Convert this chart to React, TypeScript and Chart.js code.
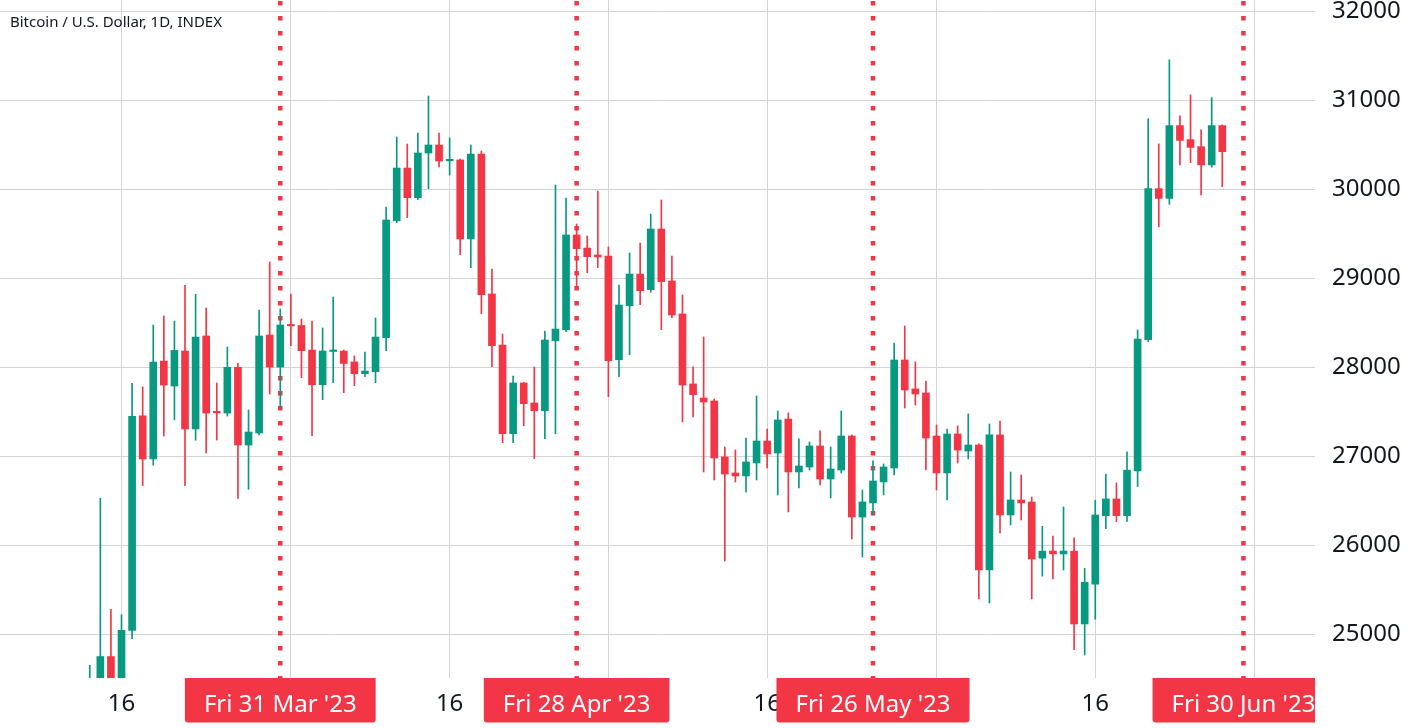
import React, { useEffect, useRef } from 'react';
import { Chart, registerables } from 'chart.js';

Chart.register(...registerables);

// ---- data ----
const dates = [
  '2023-03-13','2023-03-14','2023-03-15','2023-03-16','2023-03-17','2023-03-18','2023-03-19','2023-03-20','2023-03-21','2023-03-22',
  '2023-03-23','2023-03-24','2023-03-25','2023-03-26','2023-03-27','2023-03-28','2023-03-29','2023-03-30','2023-03-31',
  '2023-04-01','2023-04-02','2023-04-03','2023-04-04','2023-04-05','2023-04-06','2023-04-07','2023-04-08','2023-04-09','2023-04-10',
  '2023-04-11','2023-04-12','2023-04-13','2023-04-14','2023-04-15','2023-04-16','2023-04-17','2023-04-18','2023-04-19','2023-04-20',
  '2023-04-21','2023-04-22','2023-04-23','2023-04-24','2023-04-25','2023-04-26','2023-04-27','2023-04-28','2023-04-29','2023-04-30',
  '2023-05-01','2023-05-02','2023-05-03','2023-05-04','2023-05-05','2023-05-06','2023-05-07','2023-05-08','2023-05-09','2023-05-10',
  '2023-05-11','2023-05-12','2023-05-13','2023-05-14','2023-05-15','2023-05-16','2023-05-17','2023-05-18','2023-05-19','2023-05-20',
  '2023-05-21','2023-05-22','2023-05-23','2023-05-24','2023-05-25','2023-05-26','2023-05-27','2023-05-28','2023-05-29','2023-05-30','2023-05-31',
  '2023-06-01','2023-06-02','2023-06-03','2023-06-04','2023-06-05','2023-06-06','2023-06-07','2023-06-08','2023-06-09','2023-06-10',
  '2023-06-11','2023-06-12','2023-06-13','2023-06-14','2023-06-15','2023-06-16','2023-06-17','2023-06-18','2023-06-19','2023-06-20',
  '2023-06-21','2023-06-22','2023-06-23','2023-06-24','2023-06-25','2023-06-26','2023-06-27','2023-06-28',
];

const opens = [
  20600, 24150, 24750, 24380, 25045, 27455, 26970, 28070, 27790, 28183, 27307, 28352, 27496, 27486, 28000, 27127, 27262, 28363, 28003,
  28475, 28470, 28194, 27804, 28178, 28183, 28060, 27928, 27951, 28333, 29647, 30239, 29906, 30408, 30498, 30320, 30330, 29442, 30397, 28824,
  28250, 27254, 27824, 27599, 27513, 28299, 28423, 29487, 29340, 29262,
  29250, 28085, 28692, 29048, 28872, 29554, 28970, 28599, 27813, 27655, 27622, 26993, 26813, 26779, 26925, 27172, 27037, 27419, 26824, 26880,
  27116, 26745, 26846, 27228, 26318, 26476, 26712, 26869, 28082, 27757, 27712,
  27228, 26813, 27251, 27060, 27127, 25723, 27240, 26341, 26509, 26487, 25856, 25936, 25903, 25934, 25116, 25563, 26333, 26521, 26333, 26835,
  28310, 30007, 29898, 30716, 30558, 30479, 30274, 30716,
];

const highs = [
  24650, 26530, 25280, 25220, 27820, 27780, 28475, 28575, 28520, 28920, 28820, 28667, 27824, 28228, 28045, 27520, 28644, 29183, 28655,
  28824, 28543, 28520, 28442, 28790, 28194, 28127, 28172, 28554, 29801, 30588, 30509, 30633, 31048, 30633, 30576, 30340, 30498, 30430, 29104,
  28374, 27902, 27830, 28003, 28408, 30048, 29902, 29610, 29475, 29980,
  29352, 28925, 29284, 29397, 29722, 29880, 29251, 28813, 28004, 28341, 27644, 27105, 27071, 27206, 27678, 27307, 27509, 27487, 27195, 27161,
  27285, 27105, 27509, 27240, 26622, 26948, 26914, 28273, 28464, 28060, 27846,
  27352, 27307, 27341, 27476, 27139, 27363, 27397, 26824, 26790, 26543, 26214, 26105, 26431, 26083, 25742, 26507, 26801, 26700, 27050, 28419,
  30794, 30510, 31455, 30825, 31061, 30668, 31031, 30724,
];

const lows = [
  20100, 23950, 23900, 24200, 24950, 26670, 26900, 27230, 27410, 26670, 27180, 27037, 27183, 27452, 26528, 26629, 27240, 27700, 27543,
  28243, 27883, 27232, 27636, 27827, 27715, 27793, 27895, 27827, 28187, 29625, 29681, 29884, 30007, 30251, 30160, 29265, 29120, 28602, 28007,
  27153, 27153, 27344, 26973, 27198, 27254, 28400, 28900, 29063, 29120,
  27670, 27895, 28142, 28703, 28843, 28423, 28558, 27386, 27442, 26824, 26734, 25824, 26712, 26599, 26734, 26869, 26566, 26375, 26644, 26846,
  26678, 26532, 26813, 26071, 25869, 26341, 26566, 26790, 27543, 27577, 26846,
  26622, 26509, 26925, 26970, 25397, 25352, 26139, 26228, 26285, 25397, 25654, 25622, 25723, 24828, 24767, 25169, 26188, 26267, 26267, 26660,
  28288, 29578, 29832, 30274, 30300, 29937, 30248, 30029,
];

const closes = [
  24150, 24750, 24380, 25045, 27450, 26970, 28060, 27800, 28190, 27307, 28340, 27486, 27488, 28000, 27127, 27273, 28352, 28003, 28475,
  28465, 28187, 27804, 28183, 28186, 28043, 27928, 27958, 28340, 29655, 30239, 29906, 30408, 30498, 30318, 30330, 29442, 30397, 28816, 28243,
  27254, 27824, 27591, 27513, 28307, 28430, 29487, 29333, 29243, 29240,
  28074, 28700, 29048, 28861, 29554, 28963, 28588, 27801, 27693, 27610, 26981, 26801, 26779, 26936, 27172, 27026, 27408, 26824, 26891, 27116,
  26745, 26858, 27228, 26318, 26487, 26723, 26880, 28082, 27745, 27700, 27206,
  26813, 27251, 27071, 27127, 25723, 27240, 26341, 26509, 26476, 25846, 25934, 25903, 25936, 25116, 25584, 26341, 26521, 26333, 26844, 28318,
  30007, 29898, 30716, 30549, 30471, 30274, 30716, 30423,
];

const yTickValues = [25000, 26000, 27000, 28000, 29000, 30000, 31000, 32000];
const xTickDates = ['2023-03-16', '2023-04-01', '2023-04-16', '2023-05-01', '2023-05-16', '2023-06-01', '2023-06-16', '2023-07-01'];
const markerDates = ['2023-03-31', '2023-04-28', '2023-05-26', '2023-06-30'];
const titleText = 'Bitcoin / U.S. Dollar, 1D, INDEX';
const monthNames = ['Jan', 'Feb', 'Mar', 'Apr', 'May', 'Jun', 'Jul', 'Aug', 'Sep', 'Oct', 'Nov', 'Dec'];
const weekdayNames = ['Sun', 'Mon', 'Tue', 'Wed', 'Thu', 'Fri', 'Sat'];

// ---- styling ----
const UP = '#089981';
const DOWN = '#F23645';
const GRID = '#d3d4d8';
const TEXT = '#131722';
const FONT = '"Noto Sans", "Open Sans", sans-serif';
const DAY = 86400000;

const dayIdx = (s: string) => {
  const [y, m, d] = s.split('-').map(Number);
  return Date.UTC(y, m - 1, d) / DAY;
};
const fromIdx = (v: number) => new Date(Math.round(v) * DAY);

const ANCHOR = dayIdx('2023-03-31');
const X_MIN = ANCHOR - 26.48;
const X_MAX = ANCHOR + 97.76;
const Y_MIN = 24509;
const Y_MAX = 32127;

const boxLabel = (s: string) => {
  const d = fromIdx(dayIdx(s));
  const yy = String(d.getUTCFullYear()).slice(2);
  return `${weekdayNames[d.getUTCDay()]} ${d.getUTCDate()} ${monthNames[d.getUTCMonth()]} '${yy}`;
};

const overlayPlugin = {
  id: 'tvOverlay',
  beforeDatasetsDraw(chart: any) {
    const { ctx, chartArea, scales } = chart;
    ctx.save();
    ctx.beginPath();
    ctx.rect(chartArea.left, chartArea.top, chartArea.right - chartArea.left, chartArea.bottom - chartArea.top);
    ctx.clip();
    ctx.strokeStyle = DOWN;
    ctx.lineWidth = 4.5;
    ctx.setLineDash([4.5, 10.5]);
    markerDates.forEach((d) => {
      const x = scales.x.getPixelForValue(dayIdx(d));
      ctx.beginPath();
      ctx.moveTo(x, chartArea.top + 1);
      ctx.lineTo(x, chartArea.bottom);
      ctx.stroke();
    });
    ctx.restore();
  },
  afterDraw(chart: any) {
    const { ctx, chartArea, scales } = chart;
    // date boxes
    ctx.save();
    ctx.beginPath();
    ctx.rect(0, 0, chartArea.right, chart.height);
    ctx.clip();
    ctx.font = `24px ${FONT}`;
    markerDates.forEach((d) => {
      const x = scales.x.getPixelForValue(dayIdx(d));
      const label = boxLabel(d);
      const tw = ctx.measureText(label).width;
      const w = tw + 38;
      const top = chartArea.bottom;
      const h = 44.5;
      ctx.fillStyle = DOWN;
      ctx.beginPath();
      if ((ctx as any).roundRect) {
        (ctx as any).roundRect(x - w / 2, top, w, h, [0, 0, 3, 3]);
      } else {
        ctx.rect(x - w / 2, top, w, h);
      }
      ctx.fill();
      ctx.fillStyle = '#ffffff';
      ctx.textAlign = 'center';
      ctx.textBaseline = 'alphabetic';
      ctx.fillText(label, x, top + 33.5);
    });
    ctx.restore();
    // title
    ctx.save();
    ctx.font = `15px ${FONT}`;
    ctx.fillStyle = TEXT;
    ctx.textAlign = 'left';
    ctx.textBaseline = 'alphabetic';
    ctx.fillText(titleText, 10, 27);
    ctx.restore();
  },
};

export default function App() {
  const ref = useRef<HTMLCanvasElement>(null);

  useEffect(() => {
    document.body.style.margin = '0';
    const colors = opens.map((o, i) => (closes[i] >= o ? UP : DOWN));
    const bodyData = dates.map((d, i) => ({ x: dayIdx(d), y: [opens[i], closes[i]] }));
    const wickData = dates.map((d, i) => ({ x: dayIdx(d), y: [lows[i], highs[i]] }));

    const chart = new Chart(ref.current as HTMLCanvasElement, {
      type: 'bar',
      data: {
        datasets: [
          {
            label: 'wick',
            data: wickData as any,
            backgroundColor: colors,
            barThickness: 1,
            grouped: false,
            order: 2,
          } as any,
          {
            label: 'body',
            data: bodyData as any,
            backgroundColor: colors,
            barThickness: 7,
            minBarLength: 1.5,
            grouped: false,
            order: 1,
          } as any,
        ],
      },
      options: {
        animation: false,
        responsive: false,
        maintainAspectRatio: false,
        layout: { padding: 0, autoPadding: false } as any,
        plugins: {
          legend: { display: false },
          tooltip: { enabled: false },
          title: { display: false },
        },
        scales: {
          x: {
            type: 'linear',
            min: X_MIN,
            max: X_MAX,
            offset: false,
            grid: { color: GRID, drawTicks: false, offset: false, lineWidth: 1 },
            border: { display: false },
            ticks: {
              autoSkip: false,
              maxRotation: 0,
              minRotation: 0,
              padding: 12,
              color: TEXT,
              font: { family: FONT, size: 24 },
              callback: (v: any) => {
                const d = fromIdx(Number(v));
                return d.getUTCDate() === 1 ? monthNames[d.getUTCMonth()] : String(d.getUTCDate());
              },
            },
            afterBuildTicks: (axis: any) => {
              axis.ticks = xTickDates.map((d) => ({ value: dayIdx(d) }));
            },
            afterFit: (s: any) => {
              s.height = 50;
              s.paddingLeft = 0;
              s.paddingRight = 0;
            },
          } as any,
          y: {
            type: 'linear',
            position: 'right',
            min: Y_MIN,
            max: Y_MAX,
            beginAtZero: false,
            grid: { color: GRID, drawTicks: false, lineWidth: 1 },
            border: { display: false },
            ticks: {
              autoSkip: false,
              padding: 17,
              color: TEXT,
              font: { family: FONT, size: 24 },
              callback: (v: any) => String(v),
            },
            afterBuildTicks: (axis: any) => {
              axis.ticks = yTickValues.map((v) => ({ value: v }));
            },
            afterFit: (s: any) => {
              s.width = 96;
              s.paddingTop = 0;
              s.paddingBottom = 0;
            },
          } as any,
        },
      },
      plugins: [overlayPlugin as any],
    });
    return () => chart.destroy();
  }, []);

  return (
    <div style={{ width: 1411, height: 728 }}>
      <canvas ref={ref} width={1411} height={728} style={{ display: 'block', width: 1411, height: 728 }} />
    </div>
  );
}
